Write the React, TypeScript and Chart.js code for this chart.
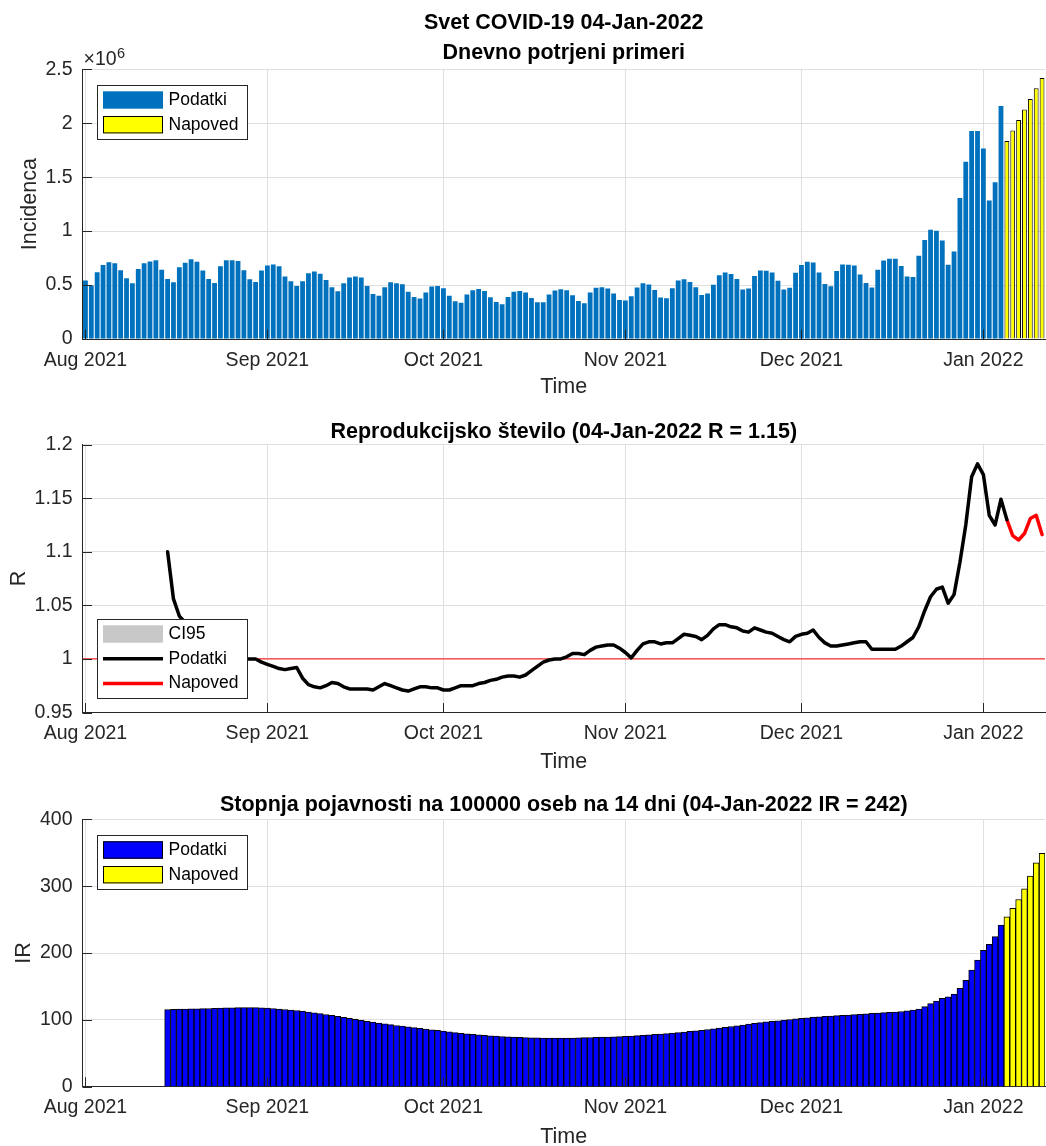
import React, { useEffect, useRef } from "react";
import { Chart, registerables } from "chart.js";

Chart.register(...registerables);

// ---------------- DATA ----------------
// Day index 0 = 1 Aug 2021
const monthTickDays = [0, 31, 61, 92, 122, 153];
const monthTickLabels = ["Aug 2021", "Sep 2021", "Oct 2021", "Nov 2021", "Dec 2021", "Jan 2022"];
const X_MIN = -0.5;
const X_MAX = 163.5;

// Daily confirmed cases (world), 1 Aug 2021 .. 4 Jan 2022
const casesStartDay = 0;
const casesData = [
  542000, 495000, 619000, 687000, 712000, 703000, 638000, 563000, 517000, 650000,
  703000, 718000, 731000, 641000, 557000, 526000, 666000, 706000, 740000, 715000,
  635000, 557000, 520000, 675000, 731000, 731000, 724000, 638000, 554000, 529000,
  635000, 681000, 690000, 675000, 579000, 536000, 492000, 536000, 610000, 625000,
  604000, 548000, 480000, 443000, 517000, 570000, 579000, 570000, 492000, 418000,
  402000, 480000, 526000, 517000, 508000, 437000, 390000, 375000, 430000, 486000,
  492000, 471000, 402000, 350000, 337000, 412000, 452000, 464000, 446000, 387000,
  344000, 322000, 390000, 437000, 446000, 430000, 381000, 341000, 341000, 412000,
  449000, 461000, 452000, 406000, 353000, 331000, 430000, 474000, 480000, 467000,
  421000, 362000, 356000, 396000, 477000, 517000, 505000, 455000, 384000, 378000,
  471000, 542000, 554000, 529000, 480000, 409000, 421000, 502000, 592000, 617000,
  602000, 556000, 460000, 469000, 583000, 636000, 633000, 617000, 540000, 460000,
  475000, 614000, 685000, 716000, 710000, 617000, 509000, 488000, 630000, 691000,
  688000, 682000, 599000, 519000, 478000, 642000, 728000, 744000, 744000, 676000,
  580000, 574000, 772000, 917000, 1012000, 1003000, 914000, 688000, 812000, 1306000,
  1642000, 1929000, 1929000, 1765000, 1284000, 1454000, 2160000,
];
const casesForecastStartDay = 157;
const casesForecast = [1836000, 1932000, 2031000, 2127000, 2225000, 2324000, 2420000];

// Reproduction number R
const rStartDay = 14;
const rData = [
  1.1, 1.056, 1.04, 1.034, 1.029, 1.024, 1.02, 1.016, 1.012, 1.009,
  1.006, 1.004, 1.002, 1.0, 1.0, 1.0, 0.997, 0.995, 0.993, 0.991,
  0.99, 0.991, 0.992, 0.982, 0.976, 0.974, 0.973, 0.975, 0.978, 0.977,
  0.974, 0.972, 0.972, 0.972, 0.972, 0.971, 0.974, 0.977, 0.975, 0.973,
  0.971, 0.97, 0.972, 0.974, 0.974, 0.973, 0.973, 0.971, 0.971, 0.973,
  0.975, 0.975, 0.975, 0.977, 0.978, 0.98, 0.981, 0.983, 0.984, 0.984,
  0.983, 0.985, 0.989, 0.993, 0.997, 0.999, 1.0, 1.0, 1.002, 1.005,
  1.005, 1.004, 1.008, 1.011, 1.012, 1.013, 1.013, 1.01, 1.006, 1.001,
  1.008, 1.014, 1.016, 1.016, 1.014, 1.015, 1.015, 1.019, 1.023, 1.022,
  1.021, 1.018, 1.022, 1.028, 1.032, 1.032, 1.03, 1.029, 1.026, 1.025,
  1.029, 1.027, 1.025, 1.024, 1.021, 1.018, 1.016, 1.021, 1.023, 1.024,
  1.027, 1.02, 1.015, 1.012, 1.012, 1.013, 1.014, 1.015, 1.016, 1.016,
  1.009, 1.009, 1.009, 1.009, 1.009, 1.012, 1.016, 1.02, 1.03, 1.045,
  1.058, 1.065, 1.067, 1.052, 1.06, 1.09, 1.125, 1.17, 1.182, 1.172,
  1.134, 1.125, 1.149, 1.13,
];
const rForecastStartDay = 157;
const rForecast = [1.13, 1.115, 1.111, 1.117, 1.131, 1.134, 1.116];
const rReferenceLevel = 1;

// 14-day incidence per 100000
const irStartDay = 14;
const irData = [
  115.5, 115.7, 116.0, 116.2, 116.4, 116.6, 116.8, 117.0, 117.3, 117.6,
  117.9, 118.1, 118.2, 118.3, 118.3, 118.2, 118.0, 117.6, 117.0, 116.2,
  115.5, 114.8, 114.0, 113.0, 111.8, 110.5, 109.3, 108.0, 106.6, 105.1,
  103.6, 102.1, 100.7, 99.3, 97.9, 96.6, 95.3, 94.0, 92.8, 91.6,
  90.5, 89.4, 88.3, 87.3, 86.3, 85.2, 84.2, 83.2, 82.1, 81.0,
  80.0, 79.1, 78.3, 77.5, 76.8, 76.1, 75.6, 75.1, 74.6, 74.2,
  73.8, 73.5, 73.2, 73.0, 72.8, 72.8, 72.7, 72.7, 72.8, 72.9,
  73.1, 73.3, 73.6, 73.9, 74.1, 74.3, 74.6, 75.0, 75.4, 75.9,
  76.4, 77.0, 77.6, 78.2, 78.8, 79.5, 80.2, 80.9, 81.8, 82.7,
  83.6, 84.5, 85.6, 86.7, 87.8, 88.9, 90.0, 91.1, 92.3, 93.5,
  94.7, 95.9, 97.0, 97.8, 98.5, 99.5, 100.5, 101.5, 102.3, 103.2,
  104.0, 104.7, 105.3, 105.8, 106.3, 106.8, 107.3, 107.8, 108.4, 109.0,
  109.6, 110.2, 110.7, 111.2, 111.8, 112.5, 113.4, 114.6, 116.2, 119.7,
  124.2, 128.1, 132.1, 134.6, 138.6, 147.1, 159.1, 174.5, 189.5, 203.9,
  212.9, 224.4, 241.8,
];
const irForecastStartDay = 157;
const irForecast = [254, 267, 280, 296, 315, 335, 349];

// ---------------- STYLE ----------------
const FONT = "'Liberation Sans', Arial, Helvetica, sans-serif";
const AXIS_COLOR = "#262626";
const GRID_COLOR = "#DFDFDF";
const W = 1046;
const Y_AXIS_WIDTH = 82.5;

const toPoints = (start: number, values: number[]) =>
  values.map((y, i) => ({ x: start + i, y }));

// MATLAB-like inner tick marks
const innerTicksPlugin = {
  id: "innerTicks",
  afterDatasetsDraw(chart: any) {
    const { ctx, chartArea } = chart;
    const xs = chart.scales.x;
    const ys = chart.scales.y;
    ctx.save();
    ctx.strokeStyle = AXIS_COLOR;
    ctx.lineWidth = 1;
    ctx.beginPath();
    for (const t of xs.ticks) {
      const px = Math.round(xs.getPixelForValue(t.value)) + 0.5;
      ctx.moveTo(px, chartArea.bottom);
      ctx.lineTo(px, chartArea.bottom - 9.5);
    }
    for (const t of ys.ticks) {
      const py = Math.round(ys.getPixelForValue(t.value)) + 0.5;
      ctx.moveTo(chartArea.left, py);
      ctx.lineTo(chartArea.left + 9.5, py);
    }
    ctx.stroke();
    ctx.restore();
  },
};

// Boxed legend inside the plot area
const boxLegendPlugin = {
  id: "boxLegend",
  afterDraw(chart: any, _args: any, opts: any) {
    const items = opts && opts.items;
    if (!items || !items.length) return;
    const { ctx, chartArea } = chart;
    const rowH = 24.7;
    const boxW = 150;
    const boxH = 15 + (items.length - 1) * rowH + 14.3;
    const bx = Math.round(chartArea.left + 14.2);
    const by = Math.round(
      opts.anchor === "bottom" ? chartArea.bottom - 15.2 - boxH : chartArea.top + 15.7
    );
    ctx.save();
    ctx.fillStyle = "#FFFFFF";
    ctx.fillRect(bx, by, boxW, boxH);
    ctx.strokeStyle = AXIS_COLOR;
    ctx.lineWidth = 1;
    ctx.strokeRect(bx + 0.5, by + 0.5, boxW, Math.round(boxH));
    items.forEach((it: any, i: number) => {
      const ds = chart.data.datasets[it.datasetIndex];
      const cy = by + 15 + i * rowH;
      const x0 = bx + 6;
      const x1 = bx + 66;
      if (it.kind === "line") {
        ctx.strokeStyle = ds.borderColor;
        ctx.lineWidth = ds.borderWidth;
        ctx.lineCap = "butt";
        ctx.beginPath();
        ctx.moveTo(x0, cy);
        ctx.lineTo(x1, cy);
        ctx.stroke();
      } else {
        ctx.fillStyle = ds.backgroundColor;
        ctx.fillRect(x0, cy - 8.7, x1 - x0, 17.4);
        if (ds.borderWidth) {
          ctx.strokeStyle = ds.borderColor;
          ctx.lineWidth = 1;
          ctx.strokeRect(x0 + 0.5, cy - 8.2, x1 - x0 - 1, 16.4);
        }
      }
      ctx.fillStyle = "#000000";
      ctx.font = `17.5px ${FONT}`;
      ctx.textBaseline = "middle";
      ctx.textAlign = "left";
      ctx.fillText(ds.label, bx + 71.5, cy);
    });
    ctx.restore();
  },
};

// "×10^6" exponent label above the y axis
const exponentPlugin = {
  id: "exponentLabel",
  afterDraw(chart: any, _args: any, opts: any) {
    if (!opts || !opts.base) return;
    const { ctx, chartArea } = chart;
    ctx.save();
    ctx.fillStyle = AXIS_COLOR;
    ctx.textBaseline = "alphabetic";
    ctx.textAlign = "left";
    ctx.font = `19.5px ${FONT}`;
    const x = chartArea.left + 1;
    ctx.fillText(opts.base, x, chartArea.top - 4.3);
    const w = ctx.measureText(opts.base).width;
    ctx.font = `14.5px ${FONT}`;
    ctx.fillText(opts.exp, x + w + 0.5, chartArea.top - 11);
    ctx.restore();
  },
};

function makeX(axisHeight: number) {
  return {
    type: "linear",
    min: X_MIN,
    max: X_MAX,
    offset: false,
    afterBuildTicks: (s: any) => {
      s.ticks = monthTickDays.map((v) => ({ value: v }));
    },
    afterFit: (s: any) => {
      s.height = axisHeight;
    },
    ticks: {
      autoSkip: false,
      maxRotation: 0,
      minRotation: 0,
      padding: 9.5,
      color: AXIS_COLOR,
      font: { family: FONT, size: 19.5 },
      callback: (v: any) => {
        const i = monthTickDays.indexOf(Number(v));
        return i >= 0 ? monthTickLabels[i] : "";
      },
    },
    grid: { color: GRID_COLOR, drawTicks: false, lineWidth: 1, offset: false },
    border: { color: AXIS_COLOR, width: 1 },
    title: {
      display: true,
      text: "Time",
      color: AXIS_COLOR,
      font: { family: FONT, size: 21.5 },
      padding: { top: 0, bottom: 0 },
    },
  };
}

function makeY(
  min: number,
  max: number,
  step: number,
  fmt: (v: number) => string,
  titleText: string,
  titlePad: number
) {
  return {
    type: "linear",
    min,
    max,
    afterFit: (s: any) => {
      s.width = Y_AXIS_WIDTH;
    },
    ticks: {
      stepSize: step,
      padding: 10,
      color: AXIS_COLOR,
      font: { family: FONT, size: 19.5 },
      callback: (v: any) => fmt(Number(v)),
    },
    grid: { color: GRID_COLOR, drawTicks: false, lineWidth: 1 },
    border: { color: AXIS_COLOR, width: 1 },
    title: {
      display: true,
      text: titleText,
      color: AXIS_COLOR,
      font: { family: FONT, size: 21.5 },
      padding: { top: titlePad, bottom: 0 },
    },
  };
}

function makeTitle(text: string | string[], lineHeight: string, top: number, bottom: number) {
  return {
    display: true,
    text,
    fullSize: false,
    color: "#000000",
    font: { family: FONT, size: 21.5, weight: "bold", lineHeight },
    padding: { top, bottom },
  };
}

const baseOptions = {
  responsive: false,
  animation: false,
  devicePixelRatio: 1,
  events: [],
  layout: { padding: { left: 0, right: 1, top: 0, bottom: 0 } },
};

function buildCasesConfig(): any {
  return {
    data: {
      datasets: [
        {
          type: "bar",
          label: "Podatki",
          data: toPoints(casesStartDay, casesData),
          backgroundColor: "#0072BD",
          borderWidth: 0,
          barPercentage: 0.82,
          categoryPercentage: 1,
          grouped: false,
        },
        {
          type: "bar",
          label: "Napoved",
          data: toPoints(casesForecastStartDay, casesForecast),
          backgroundColor: "#FFFF00",
          borderColor: "#000000",
          borderWidth: 1,
          barPercentage: 0.82,
          categoryPercentage: 1,
          grouped: false,
        },
      ],
    },
    options: {
      ...baseOptions,
      scales: {
        x: makeX(61),
        y: makeY(0, 2500000, 500000, (v) => String(v / 1e6), "Incidenca", 16.8),
      },
      plugins: {
        legend: { display: false },
        tooltip: { enabled: false },
        title: makeTitle(["Svet COVID-19 04-Jan-2022", "Dnevno potrjeni primeri"], "30px", 8.3, 1),
        boxLegend: {
          anchor: "top",
          items: [
            { datasetIndex: 0, kind: "patch" },
            { datasetIndex: 1, kind: "patch" },
          ],
        },
        exponentLabel: { base: "×10", exp: "6" },
      },
    },
    plugins: [innerTicksPlugin, boxLegendPlugin, exponentPlugin],
  };
}

function buildRConfig(): any {
  return {
    data: {
      datasets: [
        {
          type: "line",
          label: "CI95",
          data: [],
          backgroundColor: "#C8C8C8",
          borderColor: "#C8C8C8",
          borderWidth: 0,
          pointRadius: 0,
        },
        {
          type: "line",
          label: "Podatki",
          data: toPoints(rStartDay, rData),
          borderColor: "#000000",
          borderWidth: 3.5,
          pointRadius: 0,
          tension: 0,
          borderJoinStyle: "round",
          borderCapStyle: "round",
          order: 1,
        },
        {
          type: "line",
          label: "Napoved",
          data: toPoints(rForecastStartDay, rForecast),
          borderColor: "#FF0000",
          borderWidth: 3.5,
          pointRadius: 0,
          tension: 0,
          borderJoinStyle: "round",
          borderCapStyle: "round",
          order: 2,
        },
        {
          type: "line",
          label: "R = 1",
          data: [
            { x: X_MIN, y: rReferenceLevel },
            { x: X_MAX, y: rReferenceLevel },
          ],
          borderColor: "#FF0000",
          borderWidth: 1,
          pointRadius: 0,
          order: 3,
        },
      ],
    },
    options: {
      ...baseOptions,
      scales: {
        x: makeX(62.5),
        y: makeY(0.95, 1.2, 0.05, (v) => String(Math.round(v * 100) / 100), "R", 6.3),
      },
      plugins: {
        legend: { display: false },
        tooltip: { enabled: false },
        title: makeTitle("Reprodukcijsko število (04-Jan-2022 R = 1.15)", "26px", 18.6, 0),
        boxLegend: {
          anchor: "bottom",
          items: [
            { datasetIndex: 0, kind: "patch" },
            { datasetIndex: 1, kind: "line" },
            { datasetIndex: 2, kind: "line" },
          ],
        },
      },
    },
    plugins: [innerTicksPlugin, boxLegendPlugin],
  };
}

function buildIRConfig(): any {
  return {
    data: {
      datasets: [
        {
          type: "bar",
          label: "Podatki",
          data: toPoints(irStartDay, irData),
          backgroundColor: "#0000FF",
          borderColor: "#000000",
          borderWidth: 1,
          barPercentage: 1,
          categoryPercentage: 1,
          grouped: false,
        },
        {
          type: "bar",
          label: "Napoved",
          data: toPoints(irForecastStartDay, irForecast),
          backgroundColor: "#FFFF00",
          borderColor: "#000000",
          borderWidth: 1,
          barPercentage: 1,
          categoryPercentage: 1,
          grouped: false,
        },
      ],
    },
    options: {
      ...baseOptions,
      scales: {
        x: makeX(63.3),
        y: makeY(0, 400, 100, (v) => String(v), "IR", 11.6),
      },
      plugins: {
        legend: { display: false },
        tooltip: { enabled: false },
        title: makeTitle(
          "Stopnja pojavnosti na 100000 oseb na 14 dni (04-Jan-2022 IR = 242)",
          "26px",
          17,
          1.3
        ),
        boxLegend: {
          anchor: "top",
          items: [
            { datasetIndex: 0, kind: "patch" },
            { datasetIndex: 1, kind: "patch" },
          ],
        },
      },
    },
    plugins: [innerTicksPlugin, boxLegendPlugin],
  };
}

function ChartCanvas({ top, height, build }: { top: number; height: number; build: () => any }) {
  const ref = useRef<HTMLCanvasElement | null>(null);
  useEffect(() => {
    if (!ref.current) return;
    const chart = new Chart(ref.current, build());
    return () => chart.destroy();
  }, [build]);
  return (
    <canvas
      ref={ref}
      width={W}
      height={height}
      style={{ position: "absolute", left: 0, top, width: W, height, display: "block" }}
    />
  );
}

export default function App() {
  useEffect(() => {
    document.body.style.margin = "0";
    document.documentElement.style.overflow = "hidden";
  }, []);
  return (
    <div
      style={{
        position: "relative",
        width: W,
        height: 1146,
        overflow: "hidden",
        background: "#FFFFFF",
      }}
    >
      <ChartCanvas top={0} height={400} build={buildCasesConfig} />
      <ChartCanvas top={400} height={375} build={buildRConfig} />
      <ChartCanvas top={775} height={375} build={buildIRConfig} />
    </div>
  );
}
